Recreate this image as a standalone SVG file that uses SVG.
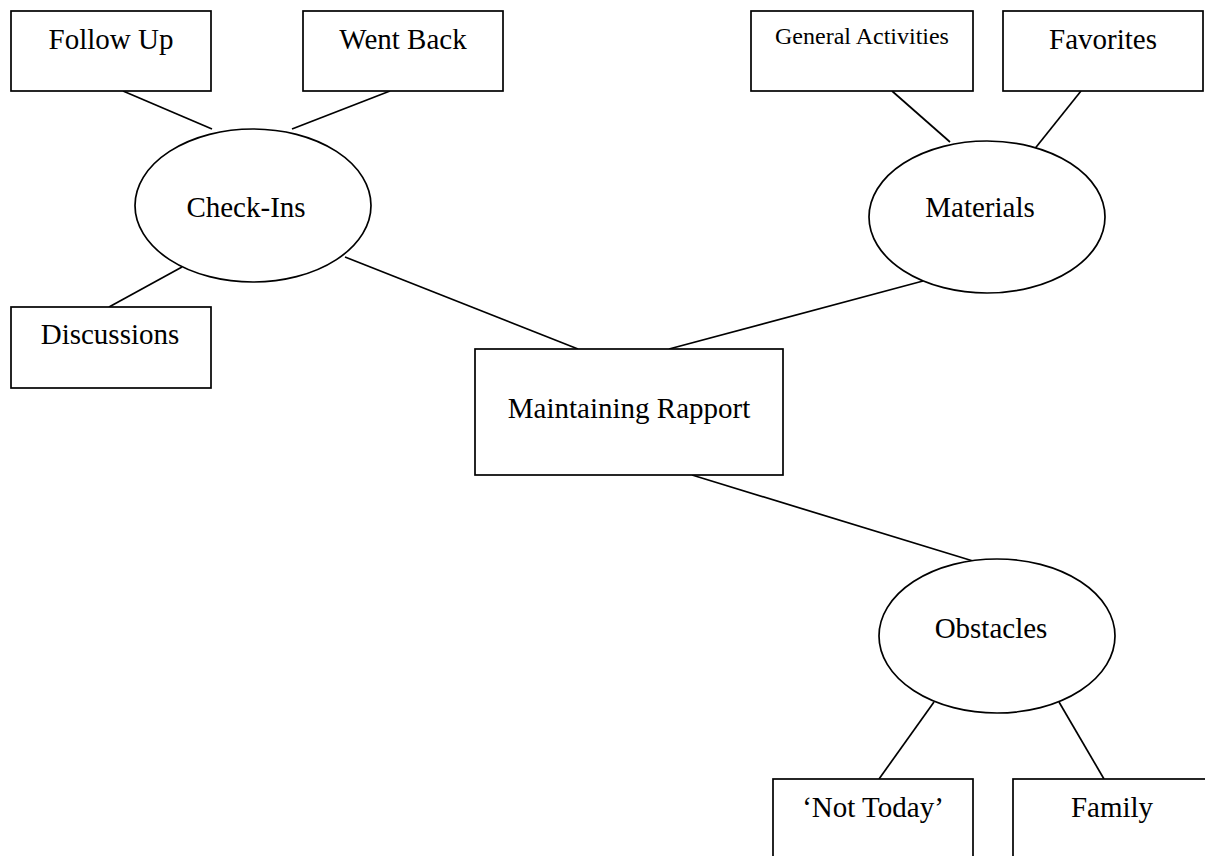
<svg xmlns="http://www.w3.org/2000/svg" width="1205" height="856" viewBox="0 0 1205 856">
<style>
.b{fill:#fff;stroke:#000;stroke-width:1.7}
.t{font-family:"Liberation Serif","Times New Roman",serif;font-size:29px;fill:#000;text-anchor:middle}
.s{font-size:24px}
.c line{stroke:#000;stroke-width:1.7}
</style>
<rect width="1205" height="856" fill="#fff"/>
<g class="c" id="connectors">
<line x1="123" y1="91" x2="212" y2="129"/>
<line x1="390" y1="91" x2="292" y2="129"/>
<line x1="182" y1="267" x2="109" y2="307"/>
<line x1="345" y1="257" x2="578" y2="349"/>
<line x1="923" y1="281" x2="669" y2="349"/>
<line x1="892" y1="91" x2="950" y2="142"/>
<line x1="1081" y1="91" x2="1033" y2="151"/>
<line x1="692" y1="475" x2="973" y2="561"/>
<line x1="934" y1="702" x2="879" y2="779"/>
<line x1="1059" y1="702" x2="1104" y2="779"/>
</g>
<g id="follow-up"><rect class="b" x="11" y="11" width="200" height="80"/><text class="t" x="111" y="49">Follow Up</text></g>
<g id="went-back"><rect class="b" x="303" y="11" width="200" height="80"/><text class="t" x="403" y="49">Went Back</text></g>
<g id="check-ins"><ellipse class="b" cx="253" cy="205.5" rx="118" ry="76.5"/><text class="t" x="246" y="217">Check-Ins</text></g>
<g id="discussions"><rect class="b" x="11" y="307" width="200" height="81"/><text class="t" x="110" y="344">Discussions</text></g>
<g id="general-activities"><rect class="b" x="751" y="11" width="222" height="80"/><text class="t s" x="862" y="44">General Activities</text></g>
<g id="favorites"><rect class="b" x="1003" y="11" width="200" height="80"/><text class="t" x="1103" y="49">Favorites</text></g>
<g id="materials"><ellipse class="b" cx="987" cy="217" rx="118" ry="76"/><text class="t" x="980" y="217">Materials</text></g>
<g id="maintaining-rapport"><rect class="b" x="475" y="349" width="308" height="126"/><text class="t" x="629" y="418">Maintaining Rapport</text></g>
<g id="obstacles"><ellipse class="b" cx="997" cy="636" rx="118" ry="77"/><text class="t" x="991" y="638">Obstacles</text></g>
<g id="not-today"><rect class="b" x="773" y="779" width="200" height="90"/><text class="t" x="873" y="817">‘Not Today’</text></g>
<g id="family"><rect class="b" x="1013" y="779" width="200" height="90"/><text class="t" x="1112" y="817">Family</text></g>
</svg>
